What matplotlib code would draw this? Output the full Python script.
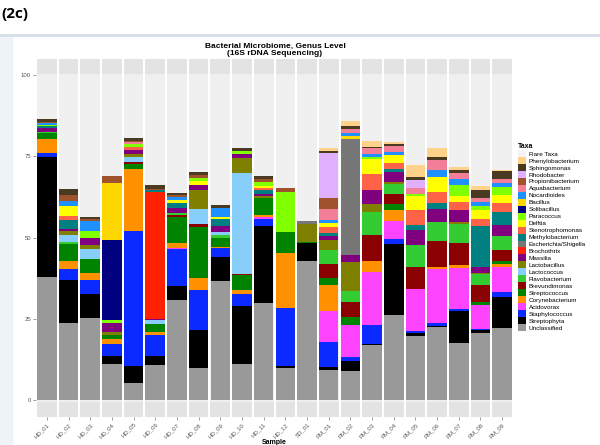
import numpy as np
import matplotlib.pyplot as plt
from matplotlib.patches import Patch

#===============================
# data (percent per sample)
#===============================
samples = ['HD_01', 'HD_02', 'HD_03', 'HD_04', 'HD_05', 'HD_06', 'HD_07', 'HD_08', 'HD_09',
           'HD_10', 'HD_11', 'HD_12', 'SD_01', 'PM_01', 'PM_02', 'PM_03', 'PM_04', 'PM_05',
           'PM_06', 'PM_07', 'PM_08', 'PM_09']

unclassified = [37.8, 23.6, 25.4, 11.1, 5.4, 10.8, 30.8, 9.9, 36.7, 11.0, 29.8, 9.9, 42.9,
                9.2, 8.9, 16.9, 26.2, 19.7, 22.4, 17.6, 20.5, 22.1]
streptophyta = [37.1, 13.3, 7.1, 2.5, 5.0, 2.9, 4.4, 11.6, 7.4, 18.0, 23.6, 0.5, 5.3,
                1.0, 3.2, 0.5, 21.8, 1.0, 0.3, 9.8, 1.0, 9.7]
staphylococcus = [1.0, 3.3, 4.4, 3.6, 41.6, 6.4, 11.2, 12.3, 2.6, 3.6, 2.3, 17.8, 0,
                  7.7, 1.0, 5.8, 1.4, 0.6, 1.0, 0.7, 0.5, 1.5]
acidovorax = [0, 0, 0, 0, 0, 0, 0.3, 0, 0, 0, 0.6, 0, 0,
              9.5, 9.9, 16.2, 5.7, 13.0, 16.6, 12.6, 7.2, 7.7]
corynebacterium = [4.3, 2.6, 2.2, 1.6, 19.2, 0.8, 1.7, 3.8, 0.5, 1.2, 0.7, 17.1, 0,
                   8.1, 0, 3.4, 3.3, 0, 0.5, 1.0, 0, 1.0]
streptococcus = [2.0, 5.1, 4.4, 1.2, 1.5, 2.6, 8.0, 15.5, 2.6, 4.8, 5.1, 6.5, 0.5,
                 2.2, 2.6, 0, 1.8, 0, 0, 0, 1.0, 0.8]
brevundimonas = [0, 0, 0, 0, 0.5, 0, 0.4, 1.0, 0, 0.3, 0, 0, 0,
                 4.3, 4.6, 7.9, 3.1, 6.5, 8.2, 6.6, 5.1, 3.5]
flavobacterium = [0.4, 0.7, 0, 0, 0, 0, 0.6, 0, 1.0, 0, 0, 0, 0,
                  4.1, 3.4, 7.2, 3.3, 6.9, 5.7, 6.0, 3.6, 4.1]
lactococcus = [0, 2.3, 3.1, 0, 1.5, 1.0, 0, 4.8, 1.0, 30.8, 0, 0, 0,
               0, 0, 0, 0, 0, 0, 0, 0, 0]
lactobacillus = [0, 1.0, 1.0, 1.0, 0.9, 0, 0, 5.6, 0, 4.9, 0.7, 0, 5.4,
                 3.1, 8.9, 2.4, 0.5, 0, 0, 0.5, 0.3, 0]
massilia = [1.0, 0.8, 2.1, 2.6, 1.2, 0.5, 1.8, 1.8, 1.8, 1.0, 0.5, 0, 0,
            1.2, 2.1, 4.4, 3.1, 4.6, 4.1, 3.6, 1.7, 3.4]
brochothrix = [0, 0, 0, 0, 0, 39.0, 0, 0, 0, 0, 0, 0, 0,
               0, 0, 0, 0, 0, 0, 0, 0, 0]
escherichia = [0, 0, 0, 0, 0, 0, 0, 0, 0, 0, 0, 0, 1.0,
               0, 35.6, 0, 0, 0, 0, 0, 0, 0]
methylobacterium = [0.8, 2.6, 0, 0, 0, 0.5, 1.5, 0, 2.1, 0, 1.2, 0, 0,
                    1.0, 0, 0, 1.0, 1.5, 1.7, 0, 12.5, 4.1]
stenotrophomonas = [0, 1.4, 0, 0, 1.0, 0, 0, 0, 0, 0, 0.8, 0, 0,
                    1.8, 0, 4.8, 1.7, 4.6, 3.4, 2.6, 2.4, 2.6]
delftia = [0, 3.1, 0, 0, 0, 0, 0.7, 1.2, 0.5, 0, 0.5, 0, 0,
           1.2, 0, 4.7, 2.6, 4.3, 4.8, 1.7, 2.8, 2.6]
paracoccus = [0.3, 0, 2.3, 1.0, 1.0, 0, 0, 0.9, 0, 1.0, 1.3, 12.3, 0,
              0, 0, 0.5, 0, 0.8, 0, 3.4, 1.0, 2.4]
solibacillus = [0, 0, 0, 24.6, 0, 0, 0, 0, 0, 0, 0, 0, 0,
                0, 0, 0, 0, 0, 0, 0, 0, 0]
bacillus = [0, 0, 0, 17.6, 0, 0, 0, 0, 0, 0, 0, 0, 0,
            0, 1.0, 0, 0, 0, 0, 0, 0, 0]
nocardioides = [0.6, 1.4, 3.1, 0, 0, 0, 1.2, 0, 2.9, 0, 0, 0, 0,
                1.0, 0.8, 0.9, 0.8, 0, 2.1, 1.8, 1.3, 1.2]
aquabacterium = [0, 0, 0, 0, 0.5, 0, 0, 0, 0, 0, 0, 0, 0,
                 3.3, 1.4, 1.8, 1.8, 1.8, 3.1, 1.9, 1.4, 1.2]
propionibacterium = [0.3, 1.8, 0.5, 2.1, 0.5, 0.5, 0.5, 0.9, 0, 0, 1.0, 1.0, 0,
                     3.6, 0, 0, 0, 0, 0, 0, 0, 0]
rhodobacter = [0, 0, 0, 0, 0, 0, 0, 0, 0, 0, 0, 0, 0,
               13.6, 0, 0, 0, 2.4, 0, 0, 0, 0]
sphingomonas = [0.8, 1.8, 0.7, 0, 0.8, 1.0, 0.6, 0.9, 0.9, 1.0, 0.8, 0, 0,
                0.8, 1.0, 0.5, 0.7, 1.0, 0.8, 1.1, 2.2, 2.6]
phenylobacterium = [0, 0, 0, 0, 0, 0, 0, 0, 0, 0, 0, 0, 0,
                    0.7, 1.3, 1.8, 0.6, 3.5, 2.8, 0.9, 1.2, 0.3]
rare_taxa = [0] * 22

# stacking order, bottom to top
taxa = [
    ('Unclassified', unclassified, '#999999'),
    ('Streptophyta', streptophyta, '#000000'),
    ('Staphylococcus', staphylococcus, '#0a2aff'),
    ('Acidovorax', acidovorax, '#ff44ff'),
    ('Corynebacterium', corynebacterium, '#ff9000'),
    ('Streptococcus', streptococcus, '#008400'),
    ('Brevundimonas', brevundimonas, '#8b0000'),
    ('Flavobacterium', flavobacterium, '#33cc33'),
    ('Lactococcus', lactococcus, '#87cefa'),
    ('Lactobacillus', lactobacillus, '#808000'),
    ('Massilia', massilia, '#800080'),
    ('Brochothrix', brochothrix, '#ff2200'),
    ('Escherichia/Shigella', escherichia, '#777777'),
    ('Methylobacterium', methylobacterium, '#008080'),
    ('Stenotrophomonas', stenotrophomonas, '#ff6347'),
    ('Delftia', delftia, '#ffff00'),
    ('Paracoccus', paracoccus, '#7fff00'),
    ('Solibacillus', solibacillus, '#000080'),
    ('Bacillus', bacillus, '#ffd700'),
    ('Nocardioides', nocardioides, '#1e90ff'),
    ('Aquabacterium', aquabacterium, '#f27e97'),
    ('Propionibacterium', propionibacterium, '#a0522d'),
    ('Rhodobacter', rhodobacter, '#e0b0ff'),
    ('Sphingomonas', sphingomonas, '#4a3a22'),
    ('Phenylobacterium', phenylobacterium, '#ffd28c'),
    ('Rare Taxa', rare_taxa, '#f4f4f4'),
]

plt.rcParams['font.family'] = ['Liberation Sans', 'DejaVu Sans']
fig = plt.figure(figsize=(6.0, 4.45), dpi=100)

# page decorations
fig.text(0.003, 0.985, '(2c)', fontsize=11, fontweight='bold', va='top', family='Open Sans')
fig.add_artist(plt.Line2D([0, 1], [1 - 35 / 445, 1 - 35 / 445], color='#d5dde8', lw=2))
fig.patches.append(plt.Rectangle((0, 0), 12 / 600, 1 - 36 / 445, transform=fig.transFigure,
                                 color='#eef3f9', zorder=0))

ax = fig.add_axes([36 / 600, 1 - 417 / 445, 477 / 600, 358 / 445])
x = np.arange(len(samples))
ax.set_xlim(-0.5, len(samples) - 0.5)
ax.set_ylim(-5.2, 104.9)
ax.axhspan(-0.6, 100.6, color='#f0f0f0', zorder=0)
ax.axhspan(100.6, 104.9, color='#e3e3e3', zorder=0)
ax.axhspan(-5.2, -0.6, color='#e3e3e3', zorder=0)
for i in range(len(samples) + 1):
    ax.axvline(i - 0.5, color='white', lw=1.5, zorder=1)

bottom = np.zeros(len(samples))
for name, vals, col in taxa:
    v = np.array(vals, dtype=float)
    ax.bar(x, v, bottom=bottom, width=0.9, color=col, linewidth=0, zorder=2)
    bottom += v

for s in ax.spines.values():
    s.set_visible(False)
ax.set_yticks([0, 25, 50, 75, 100])
ax.set_xticks(x)
ax.set_xticklabels(samples, rotation=45, ha='right', rotation_mode='anchor')
ax.tick_params(axis='both', labelsize=4.3, labelcolor='#555555', color='#777777',
               length=2, width=0.5, pad=1.5)
ax.set_ylabel('Percent', fontsize=5, fontweight='bold', labelpad=4)
ax.set_xlabel('Sample', fontsize=5, fontweight='bold', labelpad=0)

fig.text(275 / 600, 1 - 50 / 445, 'Bacterial Microbiome, Genus Level\n(16S rDNA Sequencing)',
         ha='center', va='center', fontsize=6, fontweight='bold', linespacing=1.1)

handles = [Patch(facecolor=col, label=name) for name, vals, col in taxa[::-1]]
leg = fig.legend(handles=handles, loc='upper left', bbox_to_anchor=(518 / 600, 1 - 143 / 445),
                 title='Taxa', frameon=False, fontsize=4.6, title_fontsize=5,
                 handlelength=1.3, handleheight=1.3, handletextpad=0.4, labelspacing=0.0,
                 borderaxespad=0, borderpad=0)
leg.get_title().set_fontweight('bold')
leg._legend_box.align = 'left'

fig.savefig('out.png', dpi=100)
